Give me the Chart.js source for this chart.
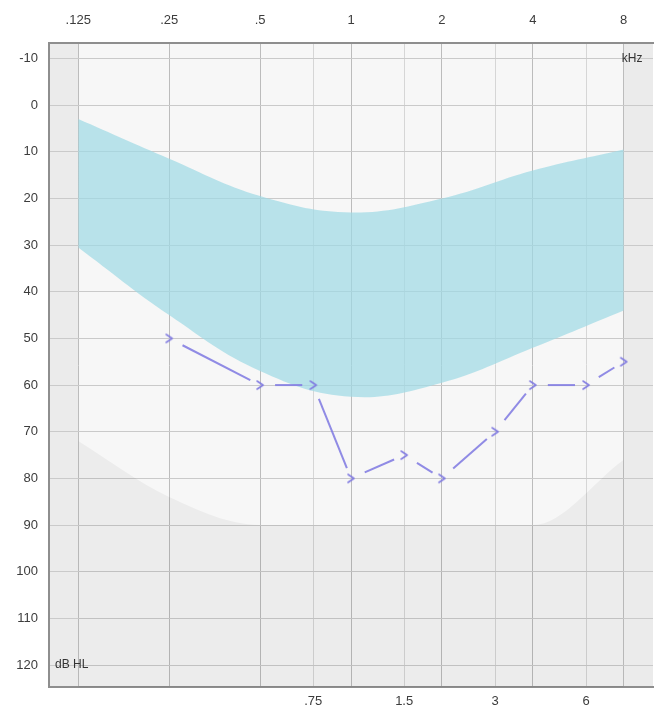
<!DOCTYPE html>
<html>
<head>
<meta charset="utf-8">
<script src="https://cdn.jsdelivr.net/npm/chart.js@4.4.1/dist/chart.umd.min.js"></script>
<style>
html,body{margin:0;padding:0;background:#ffffff;overflow:hidden;width:654px;height:710px;}
#wrap{width:662px;height:710px;}
canvas{display:block;}
</style>
</head>
<body>
<div id="wrap"><canvas id="c" width="662" height="710"></canvas></div>
<script>
// ---- axis ticks ----
const octaveFreqs = [125, 250, 500, 1000, 2000, 4000, 8000];
const octaveLabels = ['.125', '.25', '.5', '1', '2', '4', '8'];
const midFreqs = [750, 1500, 3000, 6000];
const midLabels = ['.75', '1.5', '3', '6'];
const dbTicks = [-10, 0, 10, 20, 30, 40, 50, 60, 70, 80, 90, 100, 110, 120];

// ---- shaded band (normal range area) ----
const bandFreqs = [125, 250, 500, 1000, 2000, 4000, 8000];
const bandUpper = [3, 11.5, 19.5, 23, 20, 14, 9.5];
const bandLower = [30.5, 45, 57, 62.5, 59.5, 52, 44];

// ---- lower grey limit region ----
const limitFreqs = [125, 250, 500, 1000, 2000, 4000, 8000];
const limitDb = [72, 84, 90, 90, 90, 90, 76];

// ---- measured thresholds ----
const testFreqs = [250, 500, 750, 1000, 1500, 2000, 3000, 4000, 6000, 8000];
const testDb = [50, 60, 60, 80, 75, 80, 70, 60, 60, 55];

const FONT = "'Liberation Sans', Arial, sans-serif";
const LINE_COLOR = 'rgba(132,126,226,0.9)';

// marker ">" drawn into a small canvas used as point style
const marker = document.createElement('canvas');
marker.width = 14; marker.height = 14;
(function(){
  const m = marker.getContext('2d');
  m.strokeStyle = 'rgba(126,120,224,0.95)';
  m.lineWidth = 1.6;
  m.lineJoin = 'round';
  m.lineCap = 'round';
  m.beginPath();
  m.moveTo(4, 3);
  m.lineTo(10, 7);
  m.lineTo(4, 11);
  m.stroke();
})();

const toXY = (xs, ys) => xs.map((x, i) => ({x: x, y: ys[i]}));

const bgPlugin = {
  id: 'bg',
  beforeDraw(chart) {
    const {ctx, chartArea: a} = chart;
    const xs = chart.scales.x;
    ctx.save();
    ctx.fillStyle = '#f7f7f7';
    ctx.fillRect(a.left, a.top, a.right - a.left, a.bottom - a.top);
    ctx.fillStyle = '#ebebeb';
    const p1 = xs.getPixelForValue(octaveFreqs[0]);
    const p2 = xs.getPixelForValue(octaveFreqs[octaveFreqs.length - 1]);
    ctx.fillRect(a.left, a.top, p1 - a.left, a.bottom - a.top);
    ctx.fillRect(p2, a.top, a.right - p2, a.bottom - a.top);
    ctx.restore();
  },
  afterDraw(chart) {
    const {ctx, chartArea: a} = chart;
    const xs = chart.scales.x;
    const ys = chart.scales.y;
    ctx.save();
    ctx.fillStyle = '#333';
    ctx.font = '12px ' + FONT;
    ctx.textBaseline = 'middle';
    ctx.textAlign = 'left';
    ctx.fillText('kHz', xs.getPixelForValue(octaveFreqs[octaveFreqs.length - 1]) - 2, ys.getPixelForValue(-10));
    ctx.fillText('dB HL', a.left + 6, ys.getPixelForValue(120));
    ctx.restore();
  }
};

const tickFont = {family: FONT, size: 13};

new Chart(document.getElementById('c'), {
  type: 'line',
  data: {
    datasets: [
      {
        label: 'threshold',
        data: toXY(testFreqs, testDb),
        xAxisID: 'x', yAxisID: 'y',
        borderColor: LINE_COLOR,
        borderWidth: 2,
        fill: false,
        tension: 0,
        pointStyle: marker,
        pointRadius: 7,
        order: 0,
        segment: {
          borderDash: (c) => {
            const L = Math.hypot(c.p1.x - c.p0.x, c.p1.y - c.p0.y);
            const a = 15, b = 11;
            return [0, a, Math.max(L - a - b, 0), b + 2000 + c.p0DataIndex * 0.01];
          }
        }
      },
      {
        label: 'bandUpper',
        data: toXY(bandFreqs, bandUpper),
        xAxisID: 'x', yAxisID: 'y',
        borderWidth: 0,
        borderColor: 'rgba(0,0,0,0)',
        backgroundColor: 'rgba(160,217,228,0.72)',
        pointRadius: 0,
        tension: 0.4,
        fill: '+1',
        order: 1
      },
      {
        label: 'bandLower',
        data: toXY(bandFreqs, bandLower),
        xAxisID: 'x', yAxisID: 'y',
        borderWidth: 0,
        borderColor: 'rgba(0,0,0,0)',
        pointRadius: 0,
        tension: 0.4,
        fill: false,
        order: 2
      },
      {
        label: 'limit',
        data: toXY(limitFreqs, limitDb),
        xAxisID: 'x', yAxisID: 'y',
        borderWidth: 0,
        borderColor: 'rgba(0,0,0,0)',
        backgroundColor: 'rgba(0,0,0,0.045)',
        pointRadius: 0,
        cubicInterpolationMode: 'monotone',
        fill: 'start',
        order: 3
      }
    ]
  },
  options: {
    responsive: false,
    devicePixelRatio: 1,
    animation: false,
    layout: {padding: {left: 0, right: 1, top: 0, bottom: 0}},
    plugins: {legend: {display: false}, tooltip: {enabled: false}},
    scales: {
      x: {
        type: 'logarithmic',
        position: 'top',
        min: 100, max: 10000,
        afterBuildTicks: (s) => { s.ticks = octaveFreqs.map(v => ({value: v})); },
        afterFit: (s) => { s.height = 43; },
        ticks: {
          autoSkip: false, maxRotation: 0, minRotation: 0,
          padding: 15, color: '#3c3c3c', font: tickFont,
          callback: (v, i) => octaveLabels[i]
        },
        grid: {color: '#bcbcbc', lineWidth: 1, drawTicks: false},
        border: {display: true, color: '#8e8e8e', width: 2}
      },
      x2: {
        type: 'logarithmic',
        position: 'bottom',
        min: 100, max: 10000,
        afterBuildTicks: (s) => { s.ticks = midFreqs.map(v => ({value: v})); },
        afterFit: (s) => { s.height = 23; },
        ticks: {
          autoSkip: false, maxRotation: 0, minRotation: 0,
          padding: 7, color: '#3c3c3c', font: tickFont,
          callback: (v, i) => midLabels[i]
        },
        grid: {color: '#d6d6d6', lineWidth: 1, drawTicks: false},
        border: {display: true, color: '#8e8e8e', width: 2}
      },
      y: {
        type: 'linear',
        position: 'left',
        reverse: true,
        min: -13.3, max: 124.7,
        afterBuildTicks: (s) => { s.ticks = dbTicks.map(v => ({value: v})); },
        afterFit: (s) => { s.width = 49; },
        ticks: {
          padding: 11, color: '#3c3c3c', font: tickFont,
          callback: (v) => String(v)
        },
        grid: {color: '#cacaca', lineWidth: 1, drawTicks: false},
        border: {display: true, color: '#8e8e8e', width: 2}
      }
    }
  },
  plugins: [bgPlugin]
});
</script>
</body>
</html>
